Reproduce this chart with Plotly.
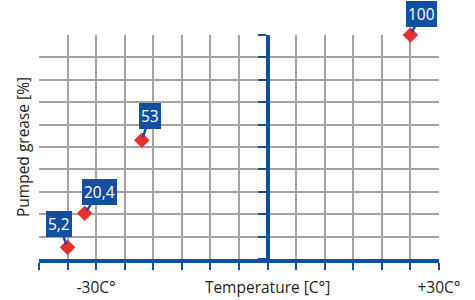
import plotly.graph_objects as go

# Data
temps = [-35, -32, -22, 25]          # °C
pumped = [5.2, 20.4, 53, 100]        # %
labels = ["5,2", "20,4", "53", "100"]
label_offsets = [(-9, -23), (15, -21), (8, -24), (11, -21)]

x_ticks = list(range(-40, 31, 5))
x_ticktext = ["" for _ in x_ticks]
x_ticktext[x_ticks.index(-30)] = "-30C°"
x_ticktext[x_ticks.index(0)] = "Temperature [C°]"
x_ticktext[x_ticks.index(30)] = "+30C°"
y_grid = list(range(10, 91, 10))
y_ticks = list(range(0, 101, 10))

BLUE = "#1150a0"
RED = "#e8322e"
GRID = "#a3a3a3"
FONT = "Open Sans"
FS = 15.5

fig = go.Figure()
fig.add_trace(go.Scatter(
    x=temps, y=pumped, mode="markers", cliponaxis=False,
    marker=dict(symbol="diamond", size=12, color=RED),
    hoverinfo="skip", showlegend=False))
# dummy trace to activate the central y axis
fig.add_trace(go.Scatter(x=[temps[0]], y=[pumped[0]], yaxis="y2", mode="markers",
                         marker=dict(opacity=0), hoverinfo="skip", showlegend=False))

for xv, yv, t, (ax, ay) in zip(temps, pumped, labels, label_offsets):
    fig.add_annotation(
        x=xv, y=yv, text=t, showarrow=True, arrowhead=0, arrowwidth=2.5,
        arrowcolor=BLUE, ax=ax, ay=ay, standoff=3,
        bgcolor=BLUE, font=dict(color="white", size=FS, family=FONT),
        borderpad=1, bordercolor=BLUE, borderwidth=1)

xr = [x_ticks[0], x_ticks[-1]]
fig.update_layout(
    width=475, height=300,
    margin=dict(l=39, r=36, t=35, b=41, autoexpand=False),
    plot_bgcolor="white", paper_bgcolor="white",
    font=dict(family=FONT, size=FS, color="#1e1e1e"),
    xaxis=dict(range=xr, tickmode="array", tickvals=x_ticks, ticktext=x_ticktext,
               showgrid=True, gridcolor=GRID, gridwidth=1.5, zeroline=False,
               showline=True, linecolor=BLUE, linewidth=3.5, automargin=False,
               ticks="outside", ticklen=7, tickcolor=BLUE, tickwidth=2,
               ticklabelstandoff=5,
               tickfont=dict(size=FS, family=FONT, color="#1e1e1e")),
    yaxis=dict(range=[0, 100], tickmode="array", tickvals=y_grid,
               showgrid=True, gridcolor=GRID, gridwidth=1.5, zeroline=False,
               showticklabels=False, ticks="", automargin=False,
               title=dict(text="Pumped grease [%]", standoff=4,
                          font=dict(size=FS, family=FONT, color="#1e1e1e"))),
    yaxis2=dict(range=[0, 100], overlaying="y", anchor="free",
                position=(0 - xr[0]) / (xr[1] - xr[0]), automargin=False,
                tickmode="array", tickvals=y_ticks, showgrid=False, zeroline=False,
                showline=True, linecolor=BLUE, linewidth=3.5,
                ticks="outside", ticklen=8, tickcolor=BLUE, tickwidth=2,
                showticklabels=False),
)

fig.write_html("out.html", config={"displayModeBar": False},
               post_script="document.body.style.margin='0';")
